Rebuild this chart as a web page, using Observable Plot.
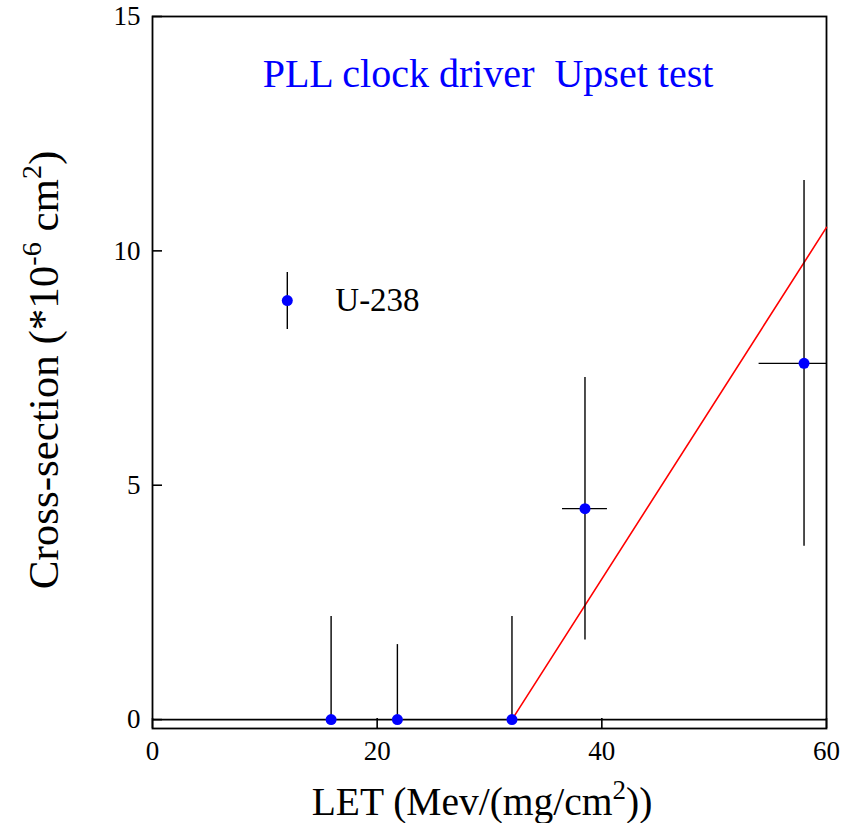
<!DOCTYPE html>
<html><head><meta charset="utf-8">
<script src="https://cdn.jsdelivr.net/npm/d3@7"></script>
<script src="https://cdn.jsdelivr.net/npm/@observablehq/plot@0.6"></script>
<style>
body{margin:0;background:#fff}
#chart{width:841px;height:823px}
svg text{white-space:pre;font-family:"Liberation Serif","Times New Roman",Times,serif !important}
</style>
</head><body><div id="chart"></div>
<script>
// Data
const letValues = [15.9, 21.8, 32.0, 38.5, 58.0];
const xsecValues = [0, 0, 0, 4.5, 7.6];
const xsecLow = [0, 0, 0, 1.7, 3.7];
const xsecHigh = [2.2, 1.6, 2.2, 7.3, 11.5];
const letLow = [null, null, null, 36.5, 54.0];
const letHigh = [null, null, null, 40.5, 60.0];
const fitLet = [32, 60];
const fitXsec = [0, 10.5];
const xTicks = [0, 20, 40, 60];
const yTicks = [0, 5, 10, 15];
const legendLabel = "U-238";
const legendLet = 12.0, legendXsec = 8.94, legendLow = 8.32, legendHigh = 9.54;
const titleText = "PLL clock driver  Upset test";

const FONT = "'Liberation Serif', 'Times New Roman', Times, serif";
const W = 841, H = 823, mL = 152, mR = 15, mT = 16, mB = 95;
const iw = W - mL - mR, ih = H - mT - mB;

const pts = letValues.map((x, i) => ({x, y: xsecValues[i], lo: xsecLow[i], hi: xsecHigh[i], xl: letLow[i], xh: letHigh[i]}));
const xerr = pts.filter(d => d.xl != null);
const fit = fitLet.map((x, i) => ({x, y: fitXsec[i]}));
const legend = [{x: legendLet, y: legendXsec, lo: legendLow, hi: legendHigh, label: legendLabel}];

const chart = Plot.plot({
  width: W, height: H,
  marginLeft: mL, marginRight: mR, marginTop: mT, marginBottom: mB,
  x: {domain: [0, 60], axis: null},
  y: {domain: [-0.19, 15], axis: null},
  style: {fontFamily: FONT, background: "white", color: "black"},
  marks: [
    // tick labels drawn as text marks through the scales
    Plot.text(xTicks, {x: d => d, frameAnchor: "bottom", lineAnchor: "top", dy: 12, text: d => String(d), fontSize: 27, fill: "black"}),
    Plot.text(yTicks, {y: d => d, frameAnchor: "left", textAnchor: "end", dx: -12, text: d => String(d), fontSize: 27, fill: "black"}),
    Plot.ruleY([0], {stroke: "black", strokeWidth: 1.6}),
    Plot.tickX(xTicks, {x: d => d, insetTop: ih - 10, stroke: "black", strokeWidth: 1.6}),
    Plot.tickY(yTicks, {y: d => d, insetRight: iw - 10, stroke: "black", strokeWidth: 1.6}),
    Plot.frame({stroke: "black", strokeWidth: 1.8}),
    Plot.line(fit, {x: "x", y: "y", stroke: "red", strokeWidth: 1.6}),
    Plot.ruleX(pts, {x: "x", y1: "lo", y2: "hi", stroke: "black", strokeWidth: 1.4}),
    Plot.ruleY(xerr, {y: "y", x1: "xl", x2: "xh", stroke: "black", strokeWidth: 1.4}),
    Plot.dot(pts, {x: "x", y: "y", r: 5.5, fill: "blue", stroke: "none"}),
    Plot.ruleX(legend, {x: "x", y1: "lo", y2: "hi", stroke: "black", strokeWidth: 1.4}),
    Plot.dot(legend, {x: "x", y: "y", r: 5.5, fill: "blue", stroke: "none"}),
    Plot.text(legend, {x: "x", y: "y", text: "label", dx: 48, textAnchor: "start", fontSize: 33, fill: "black"})
  ]
});
document.getElementById("chart").appendChild(chart);

const svg = d3.select(chart);

svg.append("text")
  .attr("x", 488).attr("y", 87)
  .attr("text-anchor", "middle").attr("fill", "blue")
  .attr("font-family", FONT).attr("font-size", 40)
  .text(titleText);

const xl = svg.append("text")
  .attr("x", 482).attr("y", 815)
  .attr("text-anchor", "middle").attr("fill", "black")
  .attr("font-family", FONT).attr("font-size", 39.5);
xl.append("tspan").text("LET (Mev/(mg/cm");
xl.append("tspan").attr("font-size", 27).attr("dy", -16).text("2");
xl.append("tspan").attr("dy", 16).text("))");

const yl = svg.append("text")
  .attr("transform", `translate(58,370) rotate(-90)`)
  .attr("text-anchor", "middle").attr("fill", "black")
  .attr("font-family", FONT).attr("font-size", 43);
yl.append("tspan").text("Cross-section (*10");
yl.append("tspan").attr("font-size", 28).attr("dy", -17).text("-6");
yl.append("tspan").attr("dy", 17).text(" cm");
yl.append("tspan").attr("font-size", 28).attr("dy", -17).text("2");
yl.append("tspan").attr("dy", 17).text(")");
</script>
</body></html>
